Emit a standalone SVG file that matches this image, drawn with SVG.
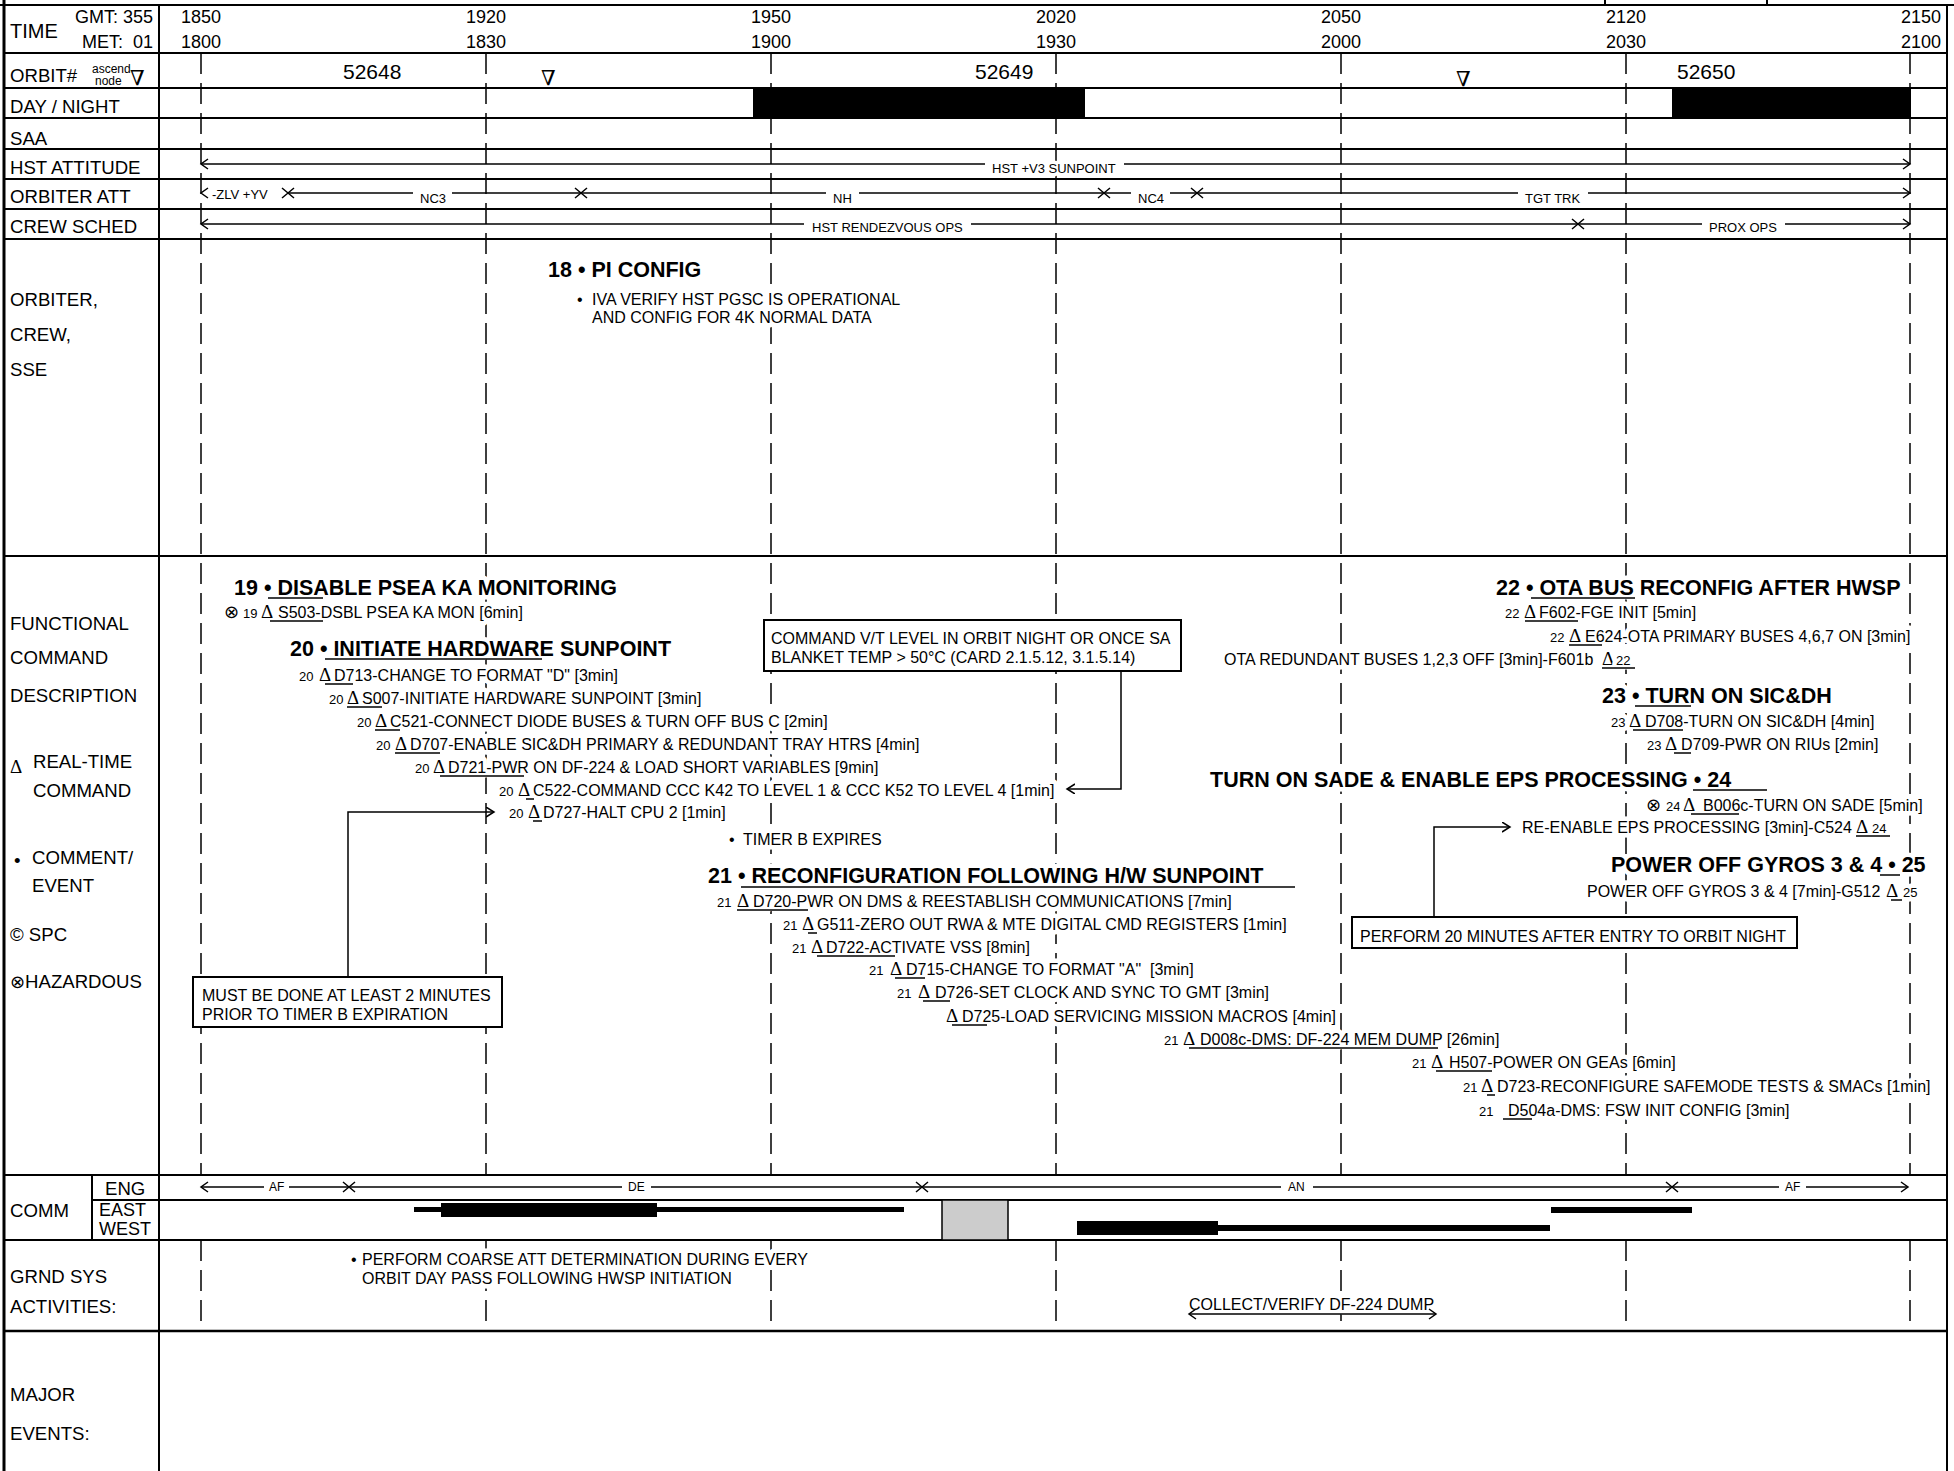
<svg xmlns="http://www.w3.org/2000/svg" xmlns:xlink="http://www.w3.org/1999/xlink" width="1954" height="1471" viewBox="0 0 1954 1471">
<style>
text { font-family: "Liberation Sans", Arial, sans-serif; fill:#000; }
.lab { font-size:18.6px; }
.big { font-size:20px; }
.num { font-size:18px; }
.orb { font-size:21px; }
.sm { font-size:13px; }
.xs { font-size:12px; }
.tiny { font-size:12px; }
.hd { font-size:21.5px; font-weight:bold; }
.tx { font-size:16px; }
.n { font-size:13px; }
.dl { font-family: "Liberation Serif", "DejaVu Serif", serif; font-size:19px; }
.sym { font-family: "DejaVu Sans", sans-serif; font-size:18px; }
.nab { font-family: "DejaVu Serif", serif; font-size:21px; }
.grid { stroke:#000; stroke-width:2; fill:none; }
.dash { stroke:#000; stroke-width:1.5; stroke-dasharray:21 9; fill:none; }
.ln { stroke:#000; stroke-width:1.5; fill:none; }
.ul { stroke:#000; stroke-width:1.5; }
.box { fill:#fff; stroke:#000; stroke-width:2; }
.frame { fill:none; stroke:#000; stroke-width:2; }
.bar { fill:#000; }
#items text { stroke:#fff; stroke-width:9px; stroke-linejoin:round; paint-order:stroke fill; }
.kt { stroke:#fff; stroke-width:7px; stroke-linejoin:round; paint-order:stroke fill; }
</style>
<defs>
<path id="cR" d="M-7,-5 L0,0 L-7,5" class="ln"/>
<path id="cL" d="M7,-5 L0,0 L7,5" class="ln"/>
<path id="xx" d="M-6,-5 L6,5 M-6,5 L6,-5" class="ln"/>
<marker id="ah" markerUnits="userSpaceOnUse" markerWidth="12" markerHeight="12" refX="8" refY="5" orient="auto">
<path d="M0,0 L8,5 L0,10" fill="none" stroke="#000" stroke-width="1.5"/>
</marker>
</defs>
<rect x="0" y="0" width="1954" height="1471" fill="#fff"/>

<g id="grid">
<line x1="0" y1="5" x2="1954" y2="5" class="grid"/>
<line x1="1605" y1="0" x2="1605" y2="5" class="grid"/>
<line x1="1767" y1="0" x2="1767" y2="5" class="grid"/>
<line x1="4" y1="0" x2="4" y2="1471" stroke="#000" stroke-width="3"/>
<line x1="159" y1="5" x2="159" y2="1471" class="grid"/>
<line x1="1947" y1="5" x2="1947" y2="1471" class="grid"/>
<line x1="4" y1="53" x2="1947" y2="53" class="grid"/>
<line x1="4" y1="88" x2="1947" y2="88" class="grid"/>
<line x1="4" y1="118" x2="1947" y2="118" class="grid"/>
<line x1="4" y1="149" x2="1947" y2="149" class="grid"/>
<line x1="4" y1="179" x2="1947" y2="179" class="grid"/>
<line x1="4" y1="209" x2="1947" y2="209" class="grid"/>
<line x1="4" y1="239" x2="1947" y2="239" class="grid"/>
<line x1="4" y1="556" x2="1947" y2="556" class="grid"/>
<line x1="4" y1="1175" x2="1947" y2="1175" class="grid"/>
<line x1="92" y1="1200" x2="1947" y2="1200" class="grid"/>
<line x1="92" y1="1175" x2="92" y2="1240" class="grid"/>
<line x1="4" y1="1240" x2="1947" y2="1240" class="grid"/>
<line x1="4" y1="1331" x2="1947" y2="1331" stroke="#000" stroke-width="2.5"/>
</g>

<g id="timeline-dashes">
<path class="dash" d="M201,53V1175 M486,53V1175 M771,53V1175 M1056,53V1175 M1341,53V1175 M1626,53V1175 M1910,53V1175"/>
<path class="dash" d="M201,1240V1331 M486,1240V1331 M771,1240V1331 M1056,1240V1331 M1341,1240V1331 M1626,1240V1331 M1910,1240V1331"/>
</g>

<g id="row-labels">
<text x="10" y="38" class="big">TIME</text>
<text x="153" y="23" class="num" text-anchor="end">GMT: 355</text>
<text x="153" y="48" class="num" text-anchor="end" xml:space="preserve">MET:  01</text>
<text x="10" y="82" class="lab">ORBIT#</text>
<text x="92" y="73" class="tiny">ascend</text>
<text x="95" y="85" class="tiny">node</text>
<text x="130" y="85" class="nab">∇</text>
<text x="10" y="113" class="lab">DAY / NIGHT</text>
<text x="10" y="145" class="lab">SAA</text>
<text x="10" y="174" class="lab">HST ATTITUDE</text>
<text x="10" y="203" class="lab">ORBITER ATT</text>
<text x="10" y="233" class="lab">CREW SCHED</text>
<text x="10" y="306" class="lab">ORBITER,</text>
<text x="10" y="341" class="lab">CREW,</text>
<text x="10" y="376" class="lab">SSE</text>
<text x="10" y="630" class="lab">FUNCTIONAL</text>
<text x="10" y="664" class="lab">COMMAND</text>
<text x="10" y="702" class="lab">DESCRIPTION</text>
<text x="10" y="773" class="dl">Δ</text>
<text x="33" y="768" class="lab">REAL-TIME</text>
<text x="33" y="797" class="lab">COMMAND</text>
<text x="14" y="867" class="lab">•</text>
<text x="32" y="864" class="lab">COMMENT/</text>
<text x="32" y="892" class="lab">EVENT</text>
<text x="10" y="941" class="lab">© SPC</text>
<text x="10" y="988" class="lab"><tspan class="sym">⊗</tspan>HAZARDOUS</text>
<text x="10" y="1217" class="lab">COMM</text>
<text x="105" y="1195" class="lab">ENG</text>
<text x="99" y="1216" class="num">EAST</text>
<text x="99" y="1235" class="num">WEST</text>
<text x="10" y="1283" class="lab">GRND SYS</text>
<text x="10" y="1313" class="lab">ACTIVITIES:</text>
<text x="10" y="1401" class="lab">MAJOR</text>
<text x="10" y="1440" class="lab">EVENTS:</text>
</g>

<g id="time-scale" text-anchor="middle">
<text x="201" y="23" class="num">1850</text>
<text x="201" y="48" class="num">1800</text>
<text x="486" y="23" class="num">1920</text>
<text x="486" y="48" class="num">1830</text>
<text x="771" y="23" class="num">1950</text>
<text x="771" y="48" class="num">1900</text>
<text x="1056" y="23" class="num">2020</text>
<text x="1056" y="48" class="num">1930</text>
<text x="1341" y="23" class="num">2050</text>
<text x="1341" y="48" class="num">2000</text>
<text x="1626" y="23" class="num">2120</text>
<text x="1626" y="48" class="num">2030</text>
<text x="1921" y="23" class="num">2150</text>
<text x="1921" y="48" class="num">2100</text>
</g>

<g id="orbits">
<text x="343" y="79" class="orb kt">52648</text>
<text x="541" y="85" class="nab">∇</text>
<text x="975" y="79" class="orb kt">52649</text>
<text x="1456" y="86" class="nab">∇</text>
<text x="1677" y="79" class="orb kt">52650</text>
</g>

<g id="day-night">
<rect x="753" y="88" width="332" height="30" class="bar"/>
<rect x="1672" y="88" width="239" height="30" class="bar"/>
</g>

<g id="comm-bars">
<rect x="414" y="1207" width="490" height="5" class="bar"/>
<rect x="441" y="1203" width="216" height="14" class="bar"/>
<rect x="942" y="1200" width="66" height="40" fill="#cccccc" stroke="#000" stroke-width="1.5"/>
<rect x="1077" y="1225" width="473" height="6" class="bar"/>
<rect x="1077" y="1221" width="141" height="14" class="bar"/>
<rect x="1551" y="1207" width="141" height="6" class="bar"/>
</g>

<g id="items">
<g id="item-18">
<text x="548" y="277" class="hd">18 • PI CONFIG</text>
<text x="577" y="305" class="tx">•</text>
<text x="592" y="305" class="tx">IVA VERIFY HST PGSC IS OPERATIONAL</text>
<text x="592" y="323" class="tx">AND CONFIG FOR 4K NORMAL DATA</text>
</g>

<g id="item-19">
<text x="234" y="595" class="hd">19 • DISABLE PSEA KA MONITORING</text>
<line x1="268" y1="598" x2="323" y2="598" class="ul"/>
<text x="224" y="618" class="sym">⊗</text>
<text x="243" y="618" class="n">19</text>
<text x="261" y="618" class="dl">Δ</text>
<text x="278" y="618" class="tx">S503-DSBL PSEA KA MON [6min]</text>
<line x1="270" y1="621" x2="323" y2="621" class="ul"/>
</g>

<g id="item-20">
<text x="290" y="656" class="hd">20 • INITIATE HARDWARE SUNPOINT</text>
<line x1="325" y1="659" x2="542" y2="659" class="ul"/>
<text x="299" y="681" class="n">20</text><text x="319" y="681" class="dl">Δ</text>
<text x="334" y="681" class="tx">D713-CHANGE TO FORMAT "D" [3min]</text>
<line x1="325" y1="684" x2="353" y2="684" class="ul"/>
<text x="329" y="704" class="n">20</text><text x="347" y="704" class="dl">Δ</text>
<text x="362" y="704" class="tx">S007-INITIATE HARDWARE SUNPOINT [3min]</text>
<line x1="347" y1="707" x2="382" y2="707" class="ul"/>
<text x="357" y="727" class="n">20</text><text x="375" y="727" class="dl">Δ</text>
<text x="390" y="727" class="tx">C521-CONNECT DIODE BUSES &amp; TURN OFF BUS C [2min]</text>
<line x1="375" y1="730" x2="400" y2="730" class="ul"/>
<text x="376" y="750" class="n">20</text><text x="395" y="750" class="dl">Δ</text>
<text x="410" y="750" class="tx">D707-ENABLE SIC&amp;DH PRIMARY &amp; REDUNDANT TRAY HTRS [4min]</text>
<line x1="395" y1="753" x2="440" y2="753" class="ul"/>
<text x="415" y="773" class="n">20</text><text x="433" y="773" class="dl">Δ</text>
<text x="448" y="773" class="tx">D721-PWR ON DF-224 &amp; LOAD SHORT VARIABLES [9min]</text>
<line x1="440" y1="776" x2="524" y2="776" class="ul"/>
<text x="499" y="796" class="n">20</text><text x="518" y="796" class="dl">Δ</text>
<text x="533" y="796" class="tx">C522-COMMAND CCC K42 TO LEVEL 1 &amp; CCC K52 TO LEVEL 4 [1min]</text>
<line x1="526" y1="799" x2="534" y2="799" class="ul"/>
<text x="509" y="818" class="n">20</text><text x="528" y="818" class="dl">Δ</text>
<text x="543" y="818" class="tx">D727-HALT CPU 2 [1min]</text>
<line x1="533" y1="821" x2="542" y2="821" class="ul"/>
</g>

<g id="note-vt-level">
<rect x="764" y="620" width="417" height="51" class="box"/>
<text x="771" y="644" class="tx">COMMAND V/T LEVEL IN ORBIT NIGHT OR ONCE SA</text>
<text x="771" y="663" class="tx">BLANKET TEMP &gt; 50°C (CARD 2.1.5.12, 3.1.5.14)</text>
<rect x="764" y="620" width="417" height="51" class="frame"/>
</g>

<g id="note-timer-b">
<rect x="193" y="977" width="309" height="50" class="box"/>
<text x="202" y="1001" class="tx">MUST BE DONE AT LEAST 2 MINUTES</text>
<text x="202" y="1020" class="tx">PRIOR TO TIMER B EXPIRATION</text>
<rect x="193" y="977" width="309" height="50" class="frame"/>
</g>

<g id="event-timer-b">
<text x="729" y="845" class="tx">•</text>
<text x="743" y="845" class="tx">TIMER B EXPIRES</text>
</g>

<g id="item-21">
<text x="708" y="883" class="hd">21 • RECONFIGURATION FOLLOWING H/W SUNPOINT</text>
<line x1="741" y1="887" x2="1295" y2="887" class="ul"/>
<text x="717" y="907" class="n">21</text><text x="737" y="907" class="dl">Δ</text>
<text x="753" y="907" class="tx">D720-PWR ON DMS &amp; REESTABLISH COMMUNICATIONS [7min]</text>
<line x1="737" y1="910" x2="808" y2="910" class="ul"/>
<text x="783" y="930" class="n">21</text><text x="802" y="930" class="dl">Δ</text>
<text x="817" y="930" class="tx">G511-ZERO OUT RWA &amp; MTE DIGITAL CMD REGISTERS [1min]</text>
<line x1="808" y1="933" x2="817" y2="933" class="ul"/>
<text x="792" y="953" class="n">21</text><text x="811" y="953" class="dl">Δ</text>
<text x="826" y="953" class="tx">D722-ACTIVATE VSS [8min]</text>
<line x1="817" y1="956" x2="895" y2="956" class="ul"/>
<text x="869" y="975" class="n">21</text><text x="890" y="975" class="dl">Δ</text>
<text x="906" y="975" class="tx" xml:space="preserve">D715-CHANGE TO FORMAT "A"  [3min]</text>
<line x1="895" y1="978" x2="925" y2="978" class="ul"/>
<text x="897" y="998" class="n">21</text><text x="918" y="998" class="dl">Δ</text>
<text x="935" y="998" class="tx">D726-SET CLOCK AND SYNC TO GMT [3min]</text>
<line x1="923" y1="1001" x2="950" y2="1001" class="ul"/>
<text x="946" y="1022" class="dl">Δ</text>
<text x="962" y="1022" class="tx">D725-LOAD SERVICING MISSION MACROS [4min]</text>
<line x1="952" y1="1025" x2="987" y2="1025" class="ul"/>
<text x="1164" y="1045" class="n">21</text><text x="1183" y="1045" class="dl">Δ</text>
<text x="1200" y="1045" class="tx">D008c-DMS: DF-224 MEM DUMP [26min]</text>
<line x1="1189" y1="1048" x2="1438" y2="1048" class="ul"/>
<text x="1412" y="1068" class="n">21</text><text x="1431" y="1068" class="dl">Δ</text>
<text x="1449" y="1068" class="tx">H507-POWER ON GEAs [6min]</text>
<line x1="1436" y1="1071" x2="1492" y2="1071" class="ul"/>
<text x="1463" y="1092" class="n">21</text><text x="1481" y="1092" class="dl">Δ</text>
<text x="1497" y="1092" class="tx">D723-RECONFIGURE SAFEMODE TESTS &amp; SMACs [1min]</text>
<line x1="1487" y1="1095" x2="1495" y2="1095" class="ul"/>
<text x="1479" y="1116" class="n">21</text>
<text x="1508" y="1116" class="tx">D504a-DMS: FSW INIT CONFIG [3min]</text>
<line x1="1503" y1="1119" x2="1532" y2="1119" class="ul"/>
</g>

<g id="item-22">
<text x="1496" y="595" class="hd">22 • OTA BUS RECONFIG AFTER HWSP</text>
<line x1="1531" y1="598" x2="1635" y2="598" class="ul"/>
<text x="1505" y="618" class="n">22</text><text x="1524" y="618" class="dl">Δ</text>
<text x="1539" y="618" class="tx">F602-FGE INIT [5min]</text>
<line x1="1525" y1="621" x2="1578" y2="621" class="ul"/>
<text x="1550" y="642" class="n">22</text><text x="1569" y="642" class="dl">Δ</text>
<text x="1585" y="642" class="tx">E624-OTA PRIMARY BUSES 4,6,7 ON [3min]</text>
<line x1="1569" y1="645" x2="1602" y2="645" class="ul"/>
<text x="1224" y="665" class="tx">OTA REDUNDANT BUSES 1,2,3 OFF [3min]-F601b</text>
<text x="1602" y="665" class="dl">Δ</text><text x="1616" y="665" class="n">22</text>
<line x1="1602" y1="668" x2="1635" y2="668" class="ul"/>
</g>

<g id="item-23">
<text x="1602" y="703" class="hd">23 • TURN ON SIC&amp;DH</text>
<line x1="1635" y1="706" x2="1691" y2="706" class="ul"/>
<text x="1611" y="727" class="n">23</text><text x="1629" y="727" class="dl">Δ</text>
<text x="1645" y="727" class="tx">D708-TURN ON SIC&amp;DH [4min]</text>
<line x1="1633" y1="730" x2="1683" y2="730" class="ul"/>
<text x="1647" y="750" class="n">23</text><text x="1665" y="750" class="dl">Δ</text>
<text x="1681" y="750" class="tx">D709-PWR ON RIUs [2min]</text>
<line x1="1674" y1="753" x2="1691" y2="753" class="ul"/>
</g>

<g id="item-24">
<text x="1210" y="787" class="hd">TURN ON SADE &amp; ENABLE EPS PROCESSING • 24</text>
<line x1="1693" y1="790" x2="1767" y2="790" class="ul"/>
<text x="1646" y="811" class="sym">⊗</text>
<text x="1666" y="811" class="n">24</text><text x="1683" y="811" class="dl">Δ</text>
<text x="1703" y="811" class="tx">B006c-TURN ON SADE [5min]</text>
<line x1="1691" y1="814" x2="1739" y2="814" class="ul"/>
<text x="1522" y="833" class="tx">RE-ENABLE EPS PROCESSING [3min]-C524</text>
<text x="1856" y="833" class="dl">Δ</text><text x="1872" y="833" class="n">24</text>
<line x1="1856" y1="836" x2="1890" y2="836" class="ul"/>
</g>

<g id="item-25">
<text x="1611" y="872" class="hd">POWER OFF GYROS 3 &amp; 4 • 25</text>
<line x1="1880" y1="875" x2="1900" y2="875" class="ul"/>
<text x="1587" y="897" class="tx">POWER OFF GYROS 3 &amp; 4 [7min]-G512</text>
<text x="1886" y="897" class="dl">Δ</text><text x="1903" y="897" class="n">25</text>
<line x1="1891" y1="900" x2="1902" y2="900" class="ul"/>
</g>

<g id="note-orbit-night">
<rect x="1352" y="917" width="445" height="31" class="box"/>
<text x="1360" y="942" class="tx">PERFORM 20 MINUTES AFTER ENTRY TO ORBIT NIGHT</text>
<rect x="1352" y="917" width="445" height="31" class="frame"/>
</g>

<g id="grnd-coarse-att">
<text x="351" y="1265" class="tx">•</text>
<text x="362" y="1265" class="tx">PERFORM COARSE ATT DETERMINATION DURING EVERY</text>
<text x="362" y="1284" class="tx">ORBIT DAY PASS FOLLOWING HWSP INITIATION</text>
</g>

<g id="grnd-collect">
<text x="1189" y="1310" class="tx">COLLECT/VERIFY DF-224 DUMP</text>
</g>
</g>

<g id="connectors">
<g id="hst-attitude">
<use xlink:href="#cL" x="201" y="164"/>
<line x1="201" y1="164" x2="985" y2="164" class="ln"/>
<text x="992" y="173" class="sm kt">HST +V3 SUNPOINT</text>
<line x1="1124" y1="164" x2="1910" y2="164" class="ln"/>
<use xlink:href="#cR" x="1910" y="164"/>
</g>
<g id="orbiter-att">
<use xlink:href="#cL" x="201" y="193"/>
<text x="212" y="199" class="sm">-ZLV +YV</text>
<use xlink:href="#xx" x="288" y="193"/>
<line x1="288" y1="193" x2="413" y2="193" class="ln"/>
<text x="420" y="203" class="sm">NC3</text>
<line x1="452" y1="193" x2="581" y2="193" class="ln"/>
<use xlink:href="#xx" x="581" y="193"/>
<line x1="581" y1="193" x2="826" y2="193" class="ln"/>
<text x="833" y="203" class="sm">NH</text>
<line x1="859" y1="193" x2="1104" y2="193" class="ln"/>
<use xlink:href="#xx" x="1104" y="193"/>
<line x1="1104" y1="193" x2="1131" y2="193" class="ln"/>
<text x="1138" y="203" class="sm">NC4</text>
<line x1="1170" y1="193" x2="1197" y2="193" class="ln"/>
<use xlink:href="#xx" x="1197" y="193"/>
<line x1="1197" y1="193" x2="1518" y2="193" class="ln"/>
<text x="1525" y="203" class="sm kt">TGT TRK</text>
<line x1="1588" y1="193" x2="1910" y2="193" class="ln"/>
<use xlink:href="#cR" x="1910" y="193"/>
</g>
<g id="crew-sched">
<use xlink:href="#cL" x="201" y="224"/>
<line x1="201" y1="224" x2="804" y2="224" class="ln"/>
<text x="812" y="232" class="sm kt">HST RENDEZVOUS OPS</text>
<line x1="971" y1="224" x2="1578" y2="224" class="ln"/>
<use xlink:href="#xx" x="1578" y="224"/>
<line x1="1578" y1="224" x2="1702" y2="224" class="ln"/>
<text x="1709" y="232" class="sm kt">PROX OPS</text>
<line x1="1785" y1="224" x2="1910" y2="224" class="ln"/>
<use xlink:href="#cR" x="1910" y="224"/>
</g>
<g id="comm-eng">
<use xlink:href="#cL" x="201" y="1187"/>
<line x1="201" y1="1187" x2="264" y2="1187" class="ln"/>
<text x="269" y="1191" class="xs">AF</text>
<line x1="289" y1="1187" x2="349" y2="1187" class="ln"/>
<use xlink:href="#xx" x="349" y="1187"/>
<line x1="349" y1="1187" x2="622" y2="1187" class="ln"/>
<text x="628" y="1191" class="xs">DE</text>
<line x1="651" y1="1187" x2="922" y2="1187" class="ln"/>
<use xlink:href="#xx" x="922" y="1187"/>
<line x1="922" y1="1187" x2="1281" y2="1187" class="ln"/>
<text x="1288" y="1191" class="xs">AN</text>
<line x1="1313" y1="1187" x2="1672" y2="1187" class="ln"/>
<use xlink:href="#xx" x="1672" y="1187"/>
<line x1="1672" y1="1187" x2="1779" y2="1187" class="ln"/>
<text x="1785" y="1191" class="xs">AF</text>
<line x1="1806" y1="1187" x2="1908" y2="1187" class="ln"/>
<use xlink:href="#cR" x="1908" y="1187"/>
</g>
<path id="arrow-timer-b" d="M348,977 V812 H494" class="ln" marker-end="url(#ah)"/>
<path id="arrow-vt-level" d="M1121,671 V789 H1067" class="ln" marker-end="url(#ah)"/>
<path id="arrow-orbit-night" d="M1434,917 V827 H1510" class="ln" marker-end="url(#ah)"/>
<g id="collect-arrow">
<line x1="1189" y1="1314" x2="1436" y2="1314" class="ln"/>
<use xlink:href="#cL" x="1189" y="1314"/>
<use xlink:href="#cR" x="1436" y="1314"/>
</g>
</g>
</svg>
